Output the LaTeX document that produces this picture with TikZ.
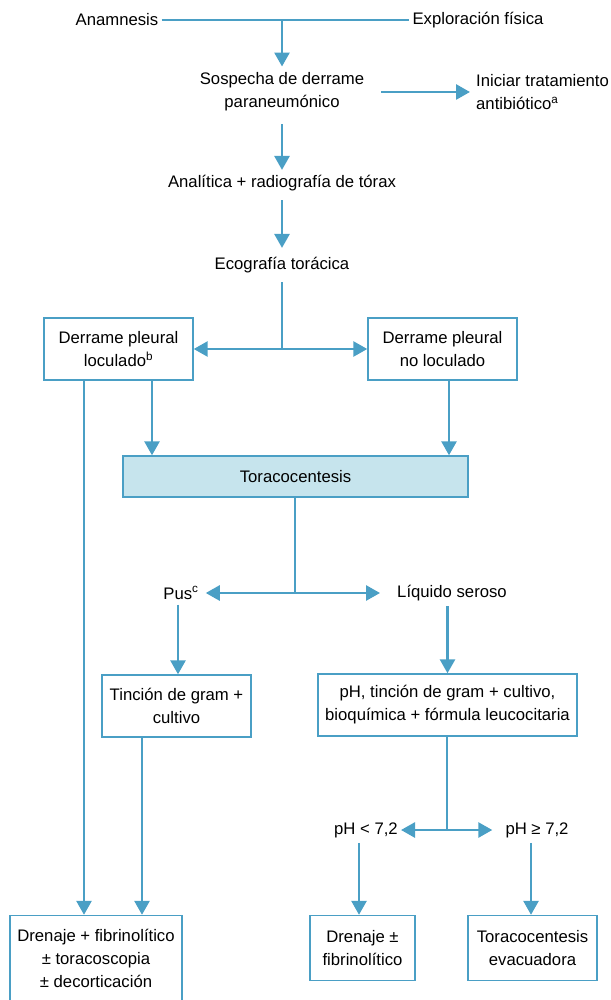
\documentclass[tikz,border=0pt]{standalone}
\usepackage{fontspec}
\setmainfont{Liberation Sans}
\usetikzlibrary{arrows.meta,positioning}
\definecolor{lb}{RGB}{74,159,197}
\definecolor{lfill}{RGB}{198,228,237}
\begin{document}
\begin{tikzpicture}[x=1pt,y=-1pt,
  every node/.style={font=\fontsize{16.7}{23}\selectfont, text=black},
  txt/.style={inner sep=3pt, align=center},
  box/.style={draw=lb, line width=1.4pt, fill=white, inner sep=2pt, align=center},
  conn/.style={draw=lb, line width=2.7pt},
  arr/.style={conn, -{Triangle[width=15pt,length=14pt]}},
  darr/.style={conn, {Triangle[width=15pt,length=14pt]}-{Triangle[width=15pt,length=14pt]}}]
\useasboundingbox (0,0) rectangle (610,1000);

% text nodes
\node[txt] (anam) at (117,20) {Anamnesis};
\node[txt] (explo) at (478,20) {Exploración física};
\node[txt] (sosp) at (282,92) {Sospecha de derrame\\paraneumónico};
\node[txt, anchor=west, align=left] (inic) at (473,92) {Iniciar tratamiento\\antibiótico\textsuperscript{a}};
\node[txt] (anal) at (282,183) {Analítica + radiografía de tórax};
\node[txt] (eco) at (282,265) {Ecografía torácica};

\node[box, minimum width=149pt, minimum height=62pt] (lob) at (118.5,349) {Derrame pleural\\loculado\textsuperscript{b}};
\node[box, minimum width=149pt, minimum height=62pt] (nlob) at (442.5,349) {Derrame pleural\\no loculado};
\node[box, fill=lfill, minimum width=345pt, minimum height=41pt] (tora) at (295.5,476.5) {Toracocentesis};

\node[txt] (pus) at (181,593) {Pus\textsuperscript{c}};
\node[txt] (liq) at (452,593) {Líquido seroso};

\node[box, minimum width=149pt, minimum height=62pt] (tinc) at (176.5,706) {Tinción de gram +\\cultivo};
\node[box, minimum width=259pt, minimum height=62pt] (ph) at (447.5,705) {pH, tinción de gram + cultivo,\\bioquímica + fórmula leucocitaria};

\node[txt] (phl) at (366,830) {pH < 7,2};
\node[txt] (phg) at (537,830) {pH ≥ 7,2};

\node[box, minimum width=172pt, minimum height=85pt] (dren) at (96,958) {Drenaje + fibrinolítico\\± toracoscopia\\± decorticación};
\node[box, minimum width=105pt, minimum height=65pt] (dren2) at (362.5,948) {Drenaje ±\\fibrinolítico};
\node[box, minimum width=129pt, minimum height=65pt] (tev) at (532.5,948) {Toracocentesis\\evacuadora};

% junctions
\coordinate (j1) at (282,20);
\coordinate (j2) at (282,349);
\coordinate (j3) at (295,593);
\coordinate (j4) at (447,830);

% connectors
\draw[conn] (anam.east) -- (explo.west);
\draw[arr, shorten >=3pt] (j1) -- (sosp.north);
\draw[arr, shorten <=14pt, shorten >=3pt] (sosp.east) -- (inic.west);
\draw[arr, shorten <=10pt, shorten >=2pt] (sosp.south) -- (anal.north);
\draw[arr, shorten <=6pt, shorten >=6pt] (anal.south) -- (eco.north);
\draw[conn, shorten <=6pt] (eco.south) -- (j2);
\draw[darr] (lob.east) -- (nlob.west);

\draw[arr] ([xshift=33.5pt]lob.south) -- ([xshift=33.5pt]lob.south |- tora.north);
\draw[arr] ([xshift=6.5pt]nlob.south) -- ([xshift=6.5pt]nlob.south |- tora.north);
\draw[arr] ([xshift=-34.5pt]lob.south) -- ([xshift=-34.5pt]lob.south |- dren.north);

\draw[conn] (tora.south -| j3) -- (j3);
\draw[arr, shorten >=4pt] (j3) -- (pus.east);
\draw[arr, shorten >=14pt] (j3) -- (liq.west);
\draw[arr, shorten <=2pt] ([xshift=-3pt]pus.south) -- ([xshift=-3pt]pus.south |- tinc.north);
\draw[arr, shorten <=2pt] (liq.south -| ph.north) -- (ph.north);

\draw[arr] ([xshift=-34.5pt]tinc.south) -- ([xshift=-34.5pt]tinc.south |- dren.north);
\draw[conn] (ph.south -| j4) -- (j4);
\draw[arr] (j4) -- (phl.east);
\draw[arr, shorten >=10pt] (j4) -- (phg.west);
\draw[arr, shorten <=2pt] ([xshift=-7pt]phl.south) -- ([xshift=-7pt]phl.south |- dren2.north);
\draw[arr, shorten <=2pt] ([xshift=-6pt]phg.south) -- ([xshift=-6pt]phg.south |- tev.north);
\end{tikzpicture}
\end{document}
